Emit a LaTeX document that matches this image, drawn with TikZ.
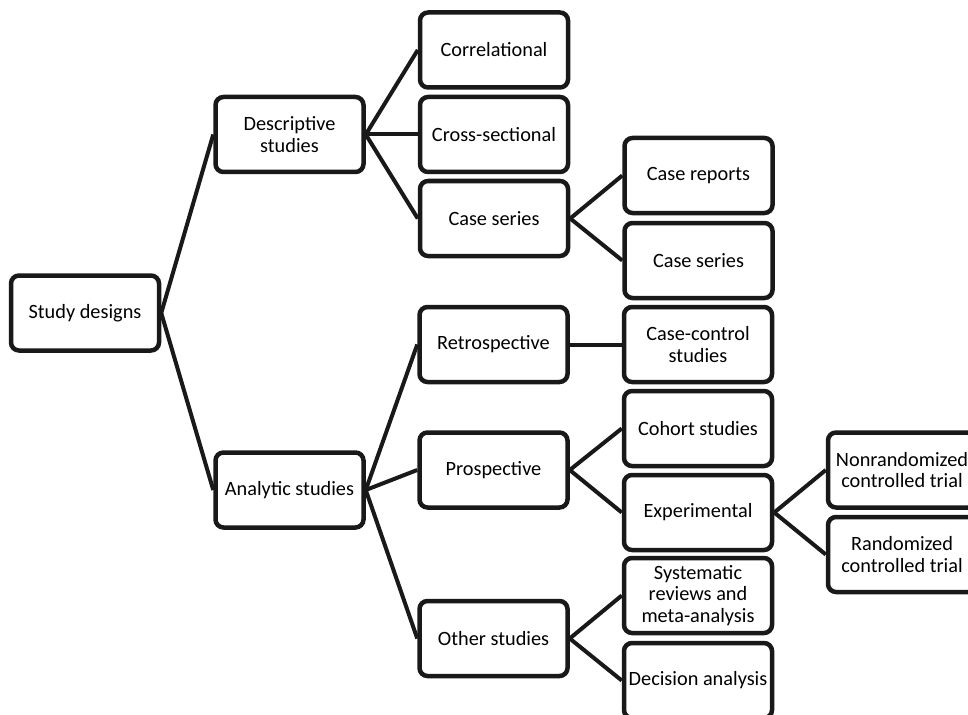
\documentclass[tikz,border=0pt]{standalone}
\usepackage{fontspec}
\setmainfont{Carlito}
\begin{document}
\begin{tikzpicture}[x=1pt,y=-1pt,
  box/.style={draw=black!90,line width=4.5pt,rounded corners=8pt,minimum width=148pt,minimum height=75pt,align=center,inner sep=0pt,font=\fontsize{20.3}{21.7}\selectfont,fill=white},
  link/.style={draw=black!90,line width=4pt}]
\useasboundingbox (0,0) rectangle (968,714);
\clip (0,0) rectangle (968,714);
\node[box] (sd) at (85,313) {Study designs};
\node[box] (desc) at (289.5,134.5) {Descriptive\\studies};
\node[box] (ana) at (289.5,490) {Analytic studies};
\node[box] (corr) at (494,50) {Correlational};
\node[box] (cross) at (494,134.5) {Cross-sectional};
\node[box] (cs) at (494,218.5) {Case series};
\node[box] (cr) at (698.5,175.5) {Case reports};
\node[box] (cs2) at (698.5,260.5) {Case series};
\node[box] (retro) at (493.5,344.5) {Retrospective};
\node[box] (cc) at (698,344.5) {Case-control\\studies};
\node[box] (pro) at (493.5,470) {Prospective};
\node[box] (coh) at (698,428.5) {Cohort studies};
\node[box] (exp) at (698,512.5) {Experimental};
\node[box] (nonr) at (902,470) {Nonrandomized\\controlled trial};
\node[box] (rand) at (902,554.5) {Randomized\\controlled trial};
\node[box] (oth) at (493.5,638.5) {Other studies};
\node[box] (sys) at (698,595.5) {Systematic\\reviews and\\meta-analysis};
\node[box] (dec) at (698,680.5) {Decision analysis};
\draw[link] (sd.east) -- (desc.west);
\draw[link] (sd.east) -- (ana.west);
\draw[link] (desc.east) -- (corr.west);
\draw[link] (desc.east) -- (cross.west);
\draw[link] (desc.east) -- (cs.west);
\draw[link] (cs.east) -- (cr.west);
\draw[link] (cs.east) -- (cs2.west);
\draw[link] (ana.east) -- (retro.west);
\draw[link] (ana.east) -- (pro.west);
\draw[link] (ana.east) -- (oth.west);
\draw[link] (retro.east) -- (cc.west);
\draw[link] (pro.east) -- (coh.west);
\draw[link] (pro.east) -- (exp.west);
\draw[link] (exp.east) -- (nonr.west);
\draw[link] (exp.east) -- (rand.west);
\draw[link] (oth.east) -- (sys.west);
\draw[link] (oth.east) -- (dec.west);
\end{tikzpicture}
\end{document}
